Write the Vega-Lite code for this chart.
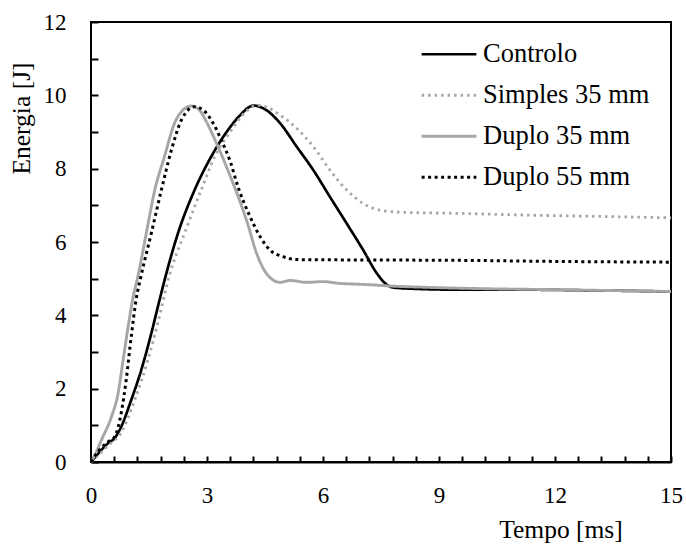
{
  "$schema": "https://vega.github.io/schema/vega-lite/v6.json",
  "width": 580,
  "height": 440,
  "autosize": {"type": "none"},
  "padding": {"left": 91, "top": 22, "right": 15, "bottom": 82},
  "background": "white",
  "config": {
    "view": {"stroke": "black", "strokeWidth": 2},
    "font": "Liberation Serif",
    "axis": {
      "labelFont": "Liberation Serif",
      "titleFont": "Liberation Serif",
      "labelColor": "black",
      "titleColor": "black",
      "labelFontSize": 23,
      "titleFontSize": 25.5,
      "titleFontWeight": "normal",
      "domainColor": "black",
      "domainWidth": 2,
      "tickColor": "black",
      "tickWidth": 2,
      "grid": false
    },
    "legend": {
      "labelFont": "Liberation Serif",
      "labelFontSize": 26.5,
      "labelColor": "black",
      "labelLimit": 400
    }
  },
  "data": {
    "values": [
      {"s": "Controlo", "t": 0, "e": 0},
      {"s": "Controlo", "t": 0.27, "e": 0.33},
      {"s": "Controlo", "t": 0.44, "e": 0.51},
      {"s": "Controlo", "t": 0.61, "e": 0.65},
      {"s": "Controlo", "t": 0.78, "e": 0.96},
      {"s": "Controlo", "t": 1.04, "e": 1.69},
      {"s": "Controlo", "t": 1.3, "e": 2.51},
      {"s": "Controlo", "t": 1.56, "e": 3.51},
      {"s": "Controlo", "t": 1.78, "e": 4.45},
      {"s": "Controlo", "t": 1.95, "e": 5.15},
      {"s": "Controlo", "t": 2.25, "e": 6.24},
      {"s": "Controlo", "t": 2.68, "e": 7.42},
      {"s": "Controlo", "t": 3.11, "e": 8.33},
      {"s": "Controlo", "t": 3.54, "e": 9.05},
      {"s": "Controlo", "t": 3.85, "e": 9.45},
      {"s": "Controlo", "t": 4.2, "e": 9.72},
      {"s": "Controlo", "t": 4.5, "e": 9.62},
      {"s": "Controlo", "t": 4.89, "e": 9.24},
      {"s": "Controlo", "t": 5.32, "e": 8.6},
      {"s": "Controlo", "t": 5.75, "e": 7.96},
      {"s": "Controlo", "t": 6.18, "e": 7.23},
      {"s": "Controlo", "t": 6.61, "e": 6.51},
      {"s": "Controlo", "t": 7.04, "e": 5.78},
      {"s": "Controlo", "t": 7.39, "e": 5.15},
      {"s": "Controlo", "t": 7.6, "e": 4.88},
      {"s": "Controlo", "t": 7.81, "e": 4.76},
      {"s": "Controlo", "t": 8.2, "e": 4.73},
      {"s": "Controlo", "t": 9.5, "e": 4.7},
      {"s": "Controlo", "t": 11, "e": 4.7},
      {"s": "Controlo", "t": 13, "e": 4.68},
      {"s": "Controlo", "t": 15, "e": 4.65},

      {"s": "Simples 35 mm", "t": 0, "e": 0},
      {"s": "Simples 35 mm", "t": 0.3, "e": 0.3},
      {"s": "Simples 35 mm", "t": 0.5, "e": 0.5},
      {"s": "Simples 35 mm", "t": 0.78, "e": 0.8},
      {"s": "Simples 35 mm", "t": 1.13, "e": 1.69},
      {"s": "Simples 35 mm", "t": 1.47, "e": 2.78},
      {"s": "Simples 35 mm", "t": 1.73, "e": 3.8},
      {"s": "Simples 35 mm", "t": 2.03, "e": 5.1},
      {"s": "Simples 35 mm", "t": 2.42, "e": 6.24},
      {"s": "Simples 35 mm", "t": 2.85, "e": 7.42},
      {"s": "Simples 35 mm", "t": 3.2, "e": 8.33},
      {"s": "Simples 35 mm", "t": 3.63, "e": 9.05},
      {"s": "Simples 35 mm", "t": 4.0, "e": 9.55},
      {"s": "Simples 35 mm", "t": 4.3, "e": 9.73},
      {"s": "Simples 35 mm", "t": 4.6, "e": 9.65},
      {"s": "Simples 35 mm", "t": 4.89, "e": 9.46},
      {"s": "Simples 35 mm", "t": 5.32, "e": 9.1},
      {"s": "Simples 35 mm", "t": 5.75, "e": 8.6},
      {"s": "Simples 35 mm", "t": 6.18, "e": 7.96},
      {"s": "Simples 35 mm", "t": 6.61, "e": 7.42},
      {"s": "Simples 35 mm", "t": 7.04, "e": 7.05},
      {"s": "Simples 35 mm", "t": 7.47, "e": 6.87},
      {"s": "Simples 35 mm", "t": 8.08, "e": 6.81},
      {"s": "Simples 35 mm", "t": 9.54, "e": 6.78},
      {"s": "Simples 35 mm", "t": 11, "e": 6.74},
      {"s": "Simples 35 mm", "t": 13, "e": 6.7},
      {"s": "Simples 35 mm", "t": 15, "e": 6.66},

      {"s": "Duplo 35 mm", "t": 0, "e": 0},
      {"s": "Duplo 35 mm", "t": 0.1, "e": 0.19},
      {"s": "Duplo 35 mm", "t": 0.27, "e": 0.6},
      {"s": "Duplo 35 mm", "t": 0.53, "e": 1.24},
      {"s": "Duplo 35 mm", "t": 0.7, "e": 1.87},
      {"s": "Duplo 35 mm", "t": 0.83, "e": 2.78},
      {"s": "Duplo 35 mm", "t": 0.96, "e": 3.69},
      {"s": "Duplo 35 mm", "t": 1.09, "e": 4.5},
      {"s": "Duplo 35 mm", "t": 1.22, "e": 5.1},
      {"s": "Duplo 35 mm", "t": 1.43, "e": 6.24},
      {"s": "Duplo 35 mm", "t": 1.65, "e": 7.42},
      {"s": "Duplo 35 mm", "t": 1.9, "e": 8.33},
      {"s": "Duplo 35 mm", "t": 2.16, "e": 9.24},
      {"s": "Duplo 35 mm", "t": 2.38, "e": 9.6},
      {"s": "Duplo 35 mm", "t": 2.59, "e": 9.71},
      {"s": "Duplo 35 mm", "t": 2.8, "e": 9.6},
      {"s": "Duplo 35 mm", "t": 3.0, "e": 9.25},
      {"s": "Duplo 35 mm", "t": 3.2, "e": 8.8},
      {"s": "Duplo 35 mm", "t": 3.6, "e": 7.8},
      {"s": "Duplo 35 mm", "t": 4.05, "e": 6.5},
      {"s": "Duplo 35 mm", "t": 4.28, "e": 5.7},
      {"s": "Duplo 35 mm", "t": 4.5, "e": 5.2},
      {"s": "Duplo 35 mm", "t": 4.7, "e": 4.97},
      {"s": "Duplo 35 mm", "t": 4.89, "e": 4.9},
      {"s": "Duplo 35 mm", "t": 5.15, "e": 4.95},
      {"s": "Duplo 35 mm", "t": 5.58, "e": 4.9},
      {"s": "Duplo 35 mm", "t": 6.0, "e": 4.92},
      {"s": "Duplo 35 mm", "t": 6.44, "e": 4.87},
      {"s": "Duplo 35 mm", "t": 6.87, "e": 4.85},
      {"s": "Duplo 35 mm", "t": 7.3, "e": 4.83},
      {"s": "Duplo 35 mm", "t": 7.73, "e": 4.8},
      {"s": "Duplo 35 mm", "t": 8.5, "e": 4.77},
      {"s": "Duplo 35 mm", "t": 10, "e": 4.73},
      {"s": "Duplo 35 mm", "t": 12, "e": 4.7},
      {"s": "Duplo 35 mm", "t": 15, "e": 4.65},

      {"s": "Duplo 55 mm", "t": 0, "e": 0},
      {"s": "Duplo 55 mm", "t": 0.18, "e": 0.28},
      {"s": "Duplo 55 mm", "t": 0.44, "e": 0.55},
      {"s": "Duplo 55 mm", "t": 0.61, "e": 0.69},
      {"s": "Duplo 55 mm", "t": 0.78, "e": 1.33},
      {"s": "Duplo 55 mm", "t": 0.91, "e": 2.24},
      {"s": "Duplo 55 mm", "t": 1.04, "e": 3.42},
      {"s": "Duplo 55 mm", "t": 1.17, "e": 4.45},
      {"s": "Duplo 55 mm", "t": 1.3, "e": 5.1},
      {"s": "Duplo 55 mm", "t": 1.56, "e": 6.24},
      {"s": "Duplo 55 mm", "t": 1.82, "e": 7.42},
      {"s": "Duplo 55 mm", "t": 2.08, "e": 8.51},
      {"s": "Duplo 55 mm", "t": 2.34, "e": 9.33},
      {"s": "Duplo 55 mm", "t": 2.68, "e": 9.69},
      {"s": "Duplo 55 mm", "t": 2.9, "e": 9.6},
      {"s": "Duplo 55 mm", "t": 3.11, "e": 9.33},
      {"s": "Duplo 55 mm", "t": 3.37, "e": 8.78},
      {"s": "Duplo 55 mm", "t": 3.6, "e": 8.2},
      {"s": "Duplo 55 mm", "t": 3.8, "e": 7.51},
      {"s": "Duplo 55 mm", "t": 4.11, "e": 6.7},
      {"s": "Duplo 55 mm", "t": 4.4, "e": 6.1},
      {"s": "Duplo 55 mm", "t": 4.63, "e": 5.78},
      {"s": "Duplo 55 mm", "t": 4.97, "e": 5.6},
      {"s": "Duplo 55 mm", "t": 5.32, "e": 5.52},
      {"s": "Duplo 55 mm", "t": 7, "e": 5.51},
      {"s": "Duplo 55 mm", "t": 9.5, "e": 5.5},
      {"s": "Duplo 55 mm", "t": 12, "e": 5.47},
      {"s": "Duplo 55 mm", "t": 15, "e": 5.45}
    ]
  },
  "mark": {"type": "line", "interpolate": "monotone", "strokeCap": "butt"},
  "encoding": {
    "x": {
      "field": "t",
      "type": "quantitative",
      "scale": {"domain": [0, 15], "nice": false},
      "axis": {
        "title": "Tempo [ms]",
        "values": [0, 0.6, 1.2, 1.8, 2.4, 3, 3.6, 4.2, 4.8, 5.4, 6, 6.6, 7.2, 7.8, 8.4, 9, 9.6, 10.2, 10.8, 11.4, 12, 12.6, 13.2, 13.8, 14.4, 15],
        "labelExpr": "(abs(datum.value/3 - round(datum.value/3)) < 0.001) ? format(datum.value, 'd') : ''",
        "tickSize": -6,
        "labelPadding": 28,
        "labelFlush": false,
        "titleAnchor": null,
        "titleAlign": "center",
        "titleBaseline": "alphabetic",
        "titleX": 469.5,
        "titleY": 75
      }
    },
    "y": {
      "field": "e",
      "type": "quantitative",
      "scale": {"domain": [0, 12], "nice": false},
      "axis": {
        "title": "Energia [J]",
        "values": [0, 1, 2, 3, 4, 5, 6, 7, 8, 9, 10, 11, 12],
        "labelExpr": "datum.value % 2 === 0 ? format(datum.value, 'd') : ''",
        "offset": -7,
        "domain": false,
        "ticks": true,
        "tickSize": 7,
        "tickColor": "black",
        "tickWidth": 2,
        "labelPadding": 25,
        "labelFlush": false,
        "titleAngle": -90,
        "titleAlign": "center",
        "titleBaseline": "alphabetic",
        "titleX": -69,
        "titleY": 96
      }
    },
    "color": {
      "field": "s",
      "type": "nominal",
      "scale": {
        "domain": ["Controlo", "Simples 35 mm", "Duplo 35 mm", "Duplo 55 mm"],
        "range": ["#000000", "#a6a6a6", "#a6a6a6", "#000000"]
      },
      "legend": {
        "title": null,
        "orient": "none",
        "legendX": 329,
        "legendY": 12,
        "symbolType": "stroke",
        "symbolSize": 3000,
        "symbolStrokeWidth": 3,
        "rowPadding": 0,
        "clipHeight": 40.5,
        "labelOffset": 5,
        "labelLimit": 400
      }
    },
    "strokeDash": {
      "field": "s",
      "type": "nominal",
      "scale": {
        "domain": ["Controlo", "Simples 35 mm", "Duplo 35 mm", "Duplo 55 mm"],
        "range": [[1, 0], [2.5, 4], [1, 0], [3, 3.5]]
      },
      "legend": null
    },
    "strokeWidth": {
      "field": "s",
      "type": "nominal",
      "scale": {
        "domain": ["Controlo", "Simples 35 mm", "Duplo 35 mm", "Duplo 55 mm"],
        "range": [2.7, 3, 3, 3]
      },
      "legend": null
    },
    "order": {"field": "s"}
  }
}
